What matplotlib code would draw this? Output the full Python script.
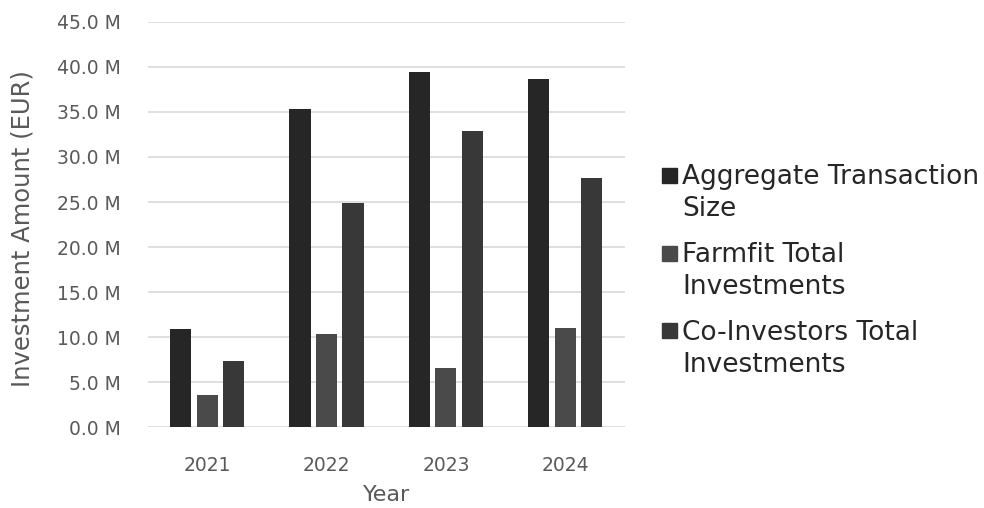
import matplotlib.pyplot as plt
from matplotlib.patches import Rectangle
import numpy as np

plt.rcParams['font.family'] = ['DejaVu Sans']

years = ['2021', '2022', '2023', '2024']
aggregate = [10.9, 35.3, 39.4, 38.7]
farmfit = [3.6, 10.4, 6.6, 11.0]
co_investors = [7.3, 24.9, 32.9, 27.7]
series_names = ['Aggregate Transaction\nSize', 'Farmfit Total\nInvestments',
                'Co-Investors Total\nInvestments']
y_ticks = [0, 5, 10, 15, 20, 25, 30, 35, 40, 45]

text_grey = '#595959'
colors = ['#262626', '#4a4a4a', '#383838']

W, H = 984, 508
fig = plt.figure(figsize=(W / 100, H / 100), dpi=100)
ax = fig.add_axes([0.150, 0.159, 0.485, 0.798])

x = np.arange(len(years))
w = 0.178
step = 0.222
for i, vals in enumerate([aggregate, farmfit, co_investors]):
    ax.bar(x + (i - 1) * step, vals, width=w, color=colors[i], zorder=3)

ax.set_xlim(-0.5, 3.5)
ax.set_ylim(0, 45)
ax.set_yticks(y_ticks)
ax.set_yticklabels([f'{v:.1f} M' for v in y_ticks])
ax.set_xticks(x)
ax.set_xticklabels(years)
ax.grid(axis='y', color='#d9d9d9', lw=1.2, zorder=0)
for s in ax.spines.values():
    s.set_visible(False)
ax.tick_params(length=0, labelsize=13.5, colors=text_grey)
ax.tick_params(axis='y', pad=19)
ax.tick_params(axis='x', pad=21)

ax.set_ylabel('Investment Amount (EUR)', fontsize=17.5, color=text_grey)
ax.yaxis.set_label_coords(-0.236, 0.491)
ax.set_xlabel('Year', fontsize=16, color=text_grey, labelpad=7)

# legend: square sits on the first line of each wrapped label,
# text is anchored on the baseline of its second line
first_baselines = [184.5, 262.5, 339.5]
line_gap = 32
sq = 15
for name, c, yb in zip(series_names, colors, first_baselines):
    fig.add_artist(Rectangle((662 / W, 1 - (yb - 2) / H), sq / W, sq / H,
                             transform=fig.transFigure, color=c))
    fig.text(682 / W, 1 - (yb + line_gap) / H, name, fontsize=19, color='#262626',
             va='baseline', ha='left', linespacing=1.3)

fig.savefig('out.png', dpi=100)
